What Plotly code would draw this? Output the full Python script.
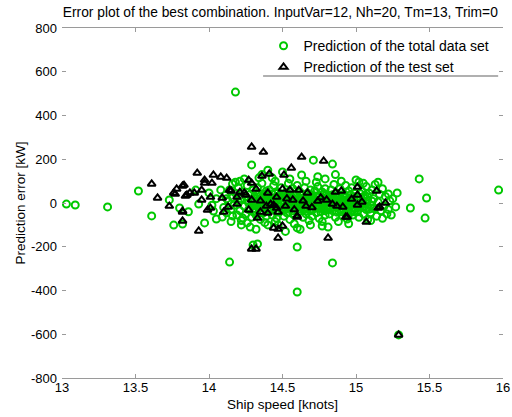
import plotly.graph_objects as go

# ---- data ----
total_x = [
    13.03, 13.09, 13.31, 13.52, 13.61, 13.73, 13.76, 13.80, 13.82, 13.86, 13.91, 13.93, 13.97, 14.00, 14.03, 14.05,
    14.09, 14.12, 14.16, 14.16, 14.18, 14.14, 14.23, 14.26, 14.29, 14.33, 14.30,
    15.97, 15.43, 15.48, 15.47, 15.37, 15.27, 15.28, 15.22, 15.24, 15.29,
    14.60, 14.84, 14.60,
    14.10, 14.11, 14.12, 14.13, 14.14, 14.15, 14.16, 14.17, 14.18, 14.19, 14.20, 14.20,
    14.21, 14.22, 14.22, 14.23, 14.24, 14.25, 14.25, 14.26, 14.27, 14.27, 14.28, 14.29, 14.29, 14.30, 14.30, 14.21, 14.24,
    14.31, 14.31, 14.32, 14.33, 14.33, 14.34, 14.34, 14.35, 14.35, 14.36, 14.36, 14.37, 14.37, 14.38, 14.38, 14.39, 14.39,
    14.40, 14.40, 14.40, 14.32, 14.36, 14.38,
    14.41, 14.41, 14.42, 14.42, 14.43, 14.43, 14.44, 14.44, 14.45, 14.45, 14.46, 14.46, 14.47, 14.47, 14.48, 14.48, 14.49,
    14.49, 14.50, 14.50, 14.50, 14.43, 14.47, 14.45,
    14.51, 14.51, 14.52, 14.52, 14.53, 14.53, 14.54, 14.54, 14.55, 14.55, 14.56, 14.56, 14.57, 14.57, 14.58, 14.58, 14.59,
    14.59, 14.60, 14.60, 14.60, 14.55, 14.58,
    14.61, 14.61, 14.62, 14.62, 14.63, 14.63, 14.64, 14.64, 14.65, 14.65, 14.66, 14.66, 14.67, 14.67, 14.68, 14.68, 14.69,
    14.69, 14.70, 14.70, 14.66, 14.69,
    14.71, 14.71, 14.72, 14.72, 14.73, 14.73, 14.74, 14.74, 14.75, 14.75, 14.76, 14.76, 14.77, 14.77, 14.78, 14.78, 14.79,
    14.79, 14.80, 14.80, 14.73, 14.77,
    14.81, 14.81, 14.82, 14.82, 14.83, 14.83, 14.84, 14.84, 14.85, 14.85, 14.86, 14.86, 14.87, 14.87, 14.88, 14.88, 14.89,
    14.89, 14.90, 14.90,
    14.91, 14.91, 14.92, 14.92, 14.93, 14.93, 14.94, 14.94, 14.95, 14.95, 14.96, 14.96, 14.97, 14.97, 14.98, 14.98, 14.99,
    14.99, 15.00, 15.00,
    15.01, 15.01, 15.02, 15.02, 15.03, 15.04, 15.04, 15.05, 15.05, 15.06, 15.07, 15.07, 15.08, 15.08, 15.09, 15.10, 15.10,
    15.11, 15.12, 15.12,
    15.13, 15.14, 15.15, 15.16, 15.17, 15.18, 15.19, 15.20, 15.21, 15.23,
    14.26, 14.28, 14.30, 14.31, 14.33, 14.34, 14.35, 14.36, 14.37, 14.38, 14.39, 14.41, 14.42, 14.43, 14.44, 14.45,
    14.46, 14.47, 14.48, 14.49, 14.51, 14.52, 14.53, 14.54, 14.55, 14.56, 14.57, 14.58, 14.59, 14.61, 14.62, 14.63,
    14.64, 14.65, 14.66, 14.67, 14.68, 14.69, 14.70, 14.71, 14.72, 14.73, 14.74, 14.75, 14.76, 14.77, 14.78, 14.79,
    14.80, 14.81, 14.82, 14.83, 14.84, 14.85, 14.86, 14.87, 14.88, 14.89, 14.90, 14.91, 14.92, 14.93, 14.94, 14.95,
    14.96, 14.97, 14.98, 14.99, 15.01, 15.02, 15.03, 15.04, 15.06, 15.08,
    14.15, 14.18, 14.22, 14.28, 14.34, 14.40, 14.52, 14.62, 14.74, 14.79, 14.86, 14.95, 15.05, 15.10, 15.15, 15.22,
    15.25, 15.18, 14.05, 14.08, 14.02,
    14.31, 14.33, 14.35, 14.37, 14.39, 14.41, 14.43, 14.45, 14.47, 14.49, 14.51, 14.53, 14.55, 14.57, 14.59, 14.61,
    14.63, 14.65, 14.67, 14.69, 14.71, 14.73, 14.75, 14.77, 14.79, 14.81, 14.83, 14.85, 14.87, 14.89, 14.91, 14.93,
    14.95, 14.97, 14.99, 15.03, 15.05, 15.07, 15.09, 15.11,
]
total_err = [
    -5, -9, -18, 55, -59, 14, -101, -23, -96, -40, 59, -5, -91, 46, -37, -73,
    -64, 20, -59, 87, 507, -270, -69, -91, 174, -187, -192,
    59, 110, 23, -69, -23, -18, 46, 41, -55, -603,
    -407, -274, -201,
    -20, 35, -45, 10, 60, -30, 25, -10, 45, -55, 5, 70,
    -35, 20, -80, 50, -15, 30, -50, 80, 0, -30, 40, -65, 15, -40, 60, 100, 110,
    -10, 30, -55, 70, 5, -25, 45, -75, 20, -5, 90, -45, 35, 10, -20, 55, -60,
    -100, 25, 0, -120, 130, -90,
    -35, 60, 15, -10, 40, -55, 80, -25, 5, 100, -70, 30, -15, 50, -40, 20, -5,
    70, 142, -30, 35, 115, -100, -85,
    -60, 10, 45, -20, 25, -45, 90, 0, -75, 55, -10, 30, -35, 65, 15, -55, 40,
    -25, -114, 5, 80, 110, -95,
    -40, 25, 50, -15, 128, 0, -65, 35, -30, 70, 10, -50, 45, -5, -80, 20, 60,
    -35, 0, -60, 100, -100,
    196, 30, -20, 55, -45, 10, 75, -10, -70, 35, 0, -40, 50, -105, 20, -25, 65,
    -55, 5, 40, 95, -85,
    -15, -110, 30, -50, 60, 0, 178, -35, 20, 85, -65, 10, 45, -20, -85, 25, -5,
    65, 100, -40,
    15, -60, 40, -15, 80, -30, 0, -73, 55, 20, -45, 35, -10, 70, -55, 10, 45,
    -25, 105, -5,
    30, -40, 96, -65, 15, -20, 55, 0, -50, 35, -30, 75, -75, 10, 45, -10, -45,
    60, 20, -25,
    85, -60, 5, 40, -35, 65, -15, 30, -50, 10,
    12, -22, 8, -28, 38, -8, 0, -35, 18, 42, -12, 8, -30, 22, -8, 45,
    -42, 12, -18, 28, -35, 18, -5, 38, -25, 8, -48, 32, -8, 12, -28, 40,
    -10, 18, -38, 25, -15, 8, 38, -28, 5, -12, 28, -25, 15, -8, 42, -35,
    -15, 22, 5, -25, 38, -8, 28, -42, 5, -28, 18, -5, 25, -48, 12, -20,
    5, -35, 30, -8, 10, -20, 42, -5, -15, 28,
    -85, 95, -100, -110, 115, 150, -130, -120, 120, 110, 130, -95, 90, -80, 95, -30,
    20, -70, 20, 60, -10,
    18, -15, 32, -2, 22, -20, 2, -18, 30, -28, 25, 10, -8, 22, -18, 0,
    -22, 5, -25, 28, -5, 32, 8, -20, 15, -30, 18, -18, 10, 32, -25, 12,
    -5, 20, -40, -8, 25, 5, -28, 8,
]

test_x = [
    13.61, 13.65, 13.73, 13.76, 13.78, 13.77, 13.82, 13.82, 13.82, 13.82, 13.83, 13.84, 13.85, 13.87, 13.90, 13.92,
    13.93, 13.95, 13.95, 13.97, 13.97, 13.99, 14.01, 14.01, 14.03, 14.02, 14.08, 14.09, 14.10, 14.12, 14.13, 14.14,
    14.15, 14.19, 14.19, 14.21, 14.24, 14.25, 14.27, 14.27, 14.29, 14.29, 14.29, 14.32, 14.32, 14.29, 14.33, 14.35,
    14.36, 14.37, 14.39, 14.40, 14.40, 14.41, 14.44, 14.46, 14.46, 14.47, 14.47, 14.47, 14.50, 14.50, 14.51, 14.52,
    14.55, 14.56, 14.57, 14.60, 14.61, 14.63, 14.66, 14.67, 14.74, 14.78, 14.80, 14.81, 14.86, 14.87, 14.90, 14.91,
    14.93, 14.94, 15.01, 15.01, 15.01, 15.07, 15.14, 15.15, 15.16, 15.20, 15.29, 14.60,
    14.42, 14.53, 14.58, 14.64, 14.70, 14.76, 14.84, 14.97, 15.04, 14.35, 14.44,
]
test_err = [
    87, 23, -14, 46, 64, 41, 78, -37, -82, -41, 82, 32, 37, 46, 46, 137,
    -128, 59, 14, 105, 91, -32, 27, -23, 128, 91, 119, 23, -41, 114, -18, 59,
    55, 27, -5, 50, 46, 37, 105, -32, 14, 256, 91, 64, -210, -210, -69, -41,
    123, 233, -14, 46, -46, 133, -114, -23, 27, -160, -119, -41, -105, 64, 128, -14,
    59, 160, 14, -64, 59, 210, -14, 46, 9, 192, 14, -160, 50, -14, 55, -18,
    -64, -64, 37, -9, 73, -87, 55, -23, -18, 0, -603, -59,
    -5, 20, -30, 10, -20, 25, -5, 18, 5, 10, -10,
]

x_ticks = [13, 13.5, 14, 14.5, 15, 15.5, 16]
y_ticks = [800, 600, 400, 200, 0, -200, -400, -600, -800]

FONT = "Liberation Sans, Arial, sans-serif"

fig = go.Figure()
fig.add_trace(go.Scatter(
    x=total_x, y=total_err, mode="markers", name="Prediction of the total data set",
    marker=dict(symbol="circle-open", size=7, color="#00c800", line=dict(width=2, color="#00c800")),
))
fig.add_trace(go.Scatter(
    x=test_x, y=test_err, mode="markers", name="Prediction of the test set",
    marker=dict(symbol="triangle-up-open", size=7, color="#000000", line=dict(width=2, color="#000000")),
))

fig.update_layout(
    width=512, height=417,
    margin=dict(l=62, r=9, t=28, b=39, autoexpand=False),
    paper_bgcolor="white", plot_bgcolor="white",
    font=dict(family=FONT, size=13, color="#000000"),
    title=dict(text="Error plot of the best combination. InputVar=12, Nh=20, Tm=13, Trim=0",
               x=0.495, xref="paper", y=0.97, yref="container", xanchor="center", yanchor="middle",
               font=dict(family=FONT, size=13.8, color="#000000")),
    showlegend=True,
    legend=dict(x=0.457, y=0.994, xanchor="left", yanchor="top", bgcolor="rgba(0,0,0,0)",
                font=dict(family=FONT, size=14, color="#000000"), tracegroupgap=0),
    xaxis=dict(range=[13, 16], tickvals=x_ticks, ticktext=[str(v) for v in x_ticks],
               showgrid=False, zeroline=False, showline=True, linecolor="#9a9a9a", linewidth=1,
               mirror="ticks", ticks="inside", ticklen=4, tickcolor="#9a9a9a", automargin=True,
               ticklabelstandoff=-3,
               title=dict(text="Ship speed [knots]", font=dict(size=13.5), standoff=5),
               tickfont=dict(size=13)),
    yaxis=dict(range=[-800, 800], tickvals=y_ticks, ticktext=[str(v) for v in y_ticks],
               showgrid=False, zeroline=False, showline=False,
               mirror="ticks", ticks="inside", ticklen=4, tickcolor="#9a9a9a", automargin=True,
               ticklabelstandoff=4,
               title=dict(text="Prediction error [kW]", font=dict(size=13.5), standoff=2),
               tickfont=dict(size=13)),
    shapes=[dict(type="line", xref="paper", yref="paper", x0=0.456, x1=0.989, y0=0.863, y1=0.863,
                 line=dict(color="#b0b0b0", width=2))],
)

fig.write_html("out.html", config={"displayModeBar": False},
               post_script="document.body.style.margin='0';")
